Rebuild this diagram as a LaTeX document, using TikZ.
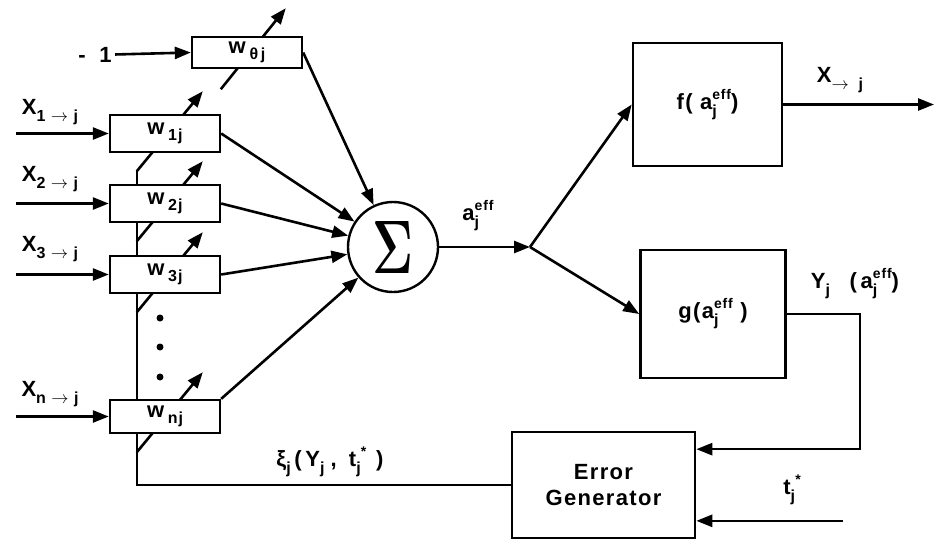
\documentclass[tikz,border=0pt]{standalone}
\usepackage{amsmath}
\usepackage{fontspec}
\setmainfont{Liberation Sans}[LetterSpace=6]
\usepackage{tikz}
\usetikzlibrary{positioning,calc,arrows.meta,backgrounds}

\newcommand{\ssub}[1]{\raisebox{-7pt}{\fontsize{16}{16}\selectfont #1}}
\newcommand{\ssup}[1]{\raisebox{10pt}{\fontsize{14}{14}\selectfont #1}}
\newcommand{\subsup}[2]{\rlap{\ssub{#1}}\ssup{#2}}
\newcommand{\wsub}[1]{\,\raisebox{-6pt}{\fontsize{16}{16}\selectfont #1}}

\begin{document}
\begin{tikzpicture}[
        x=1pt, y=-1pt,
        every node/.style={font=\fontsize{22}{26}\selectfont\bfseries},
        wbox/.style={draw, line width=2.4pt, fill=white, minimum width=110pt,
          minimum height=37pt, inner sep=0pt},
        bigbox/.style={draw, line width=2.6pt, fill=white, align=center, inner sep=0pt},
        wire/.style={line width=2.6pt, -{Triangle[length=16pt,width=12pt]}},
        plain/.style={line width=2.6pt}
      ]

      \useasboundingbox (0,0) rectangle (937,542);

      % weights
      \node[wbox, minimum height=31pt] (wt) at (247,52.5) {w\wsub{θ\,j}};
      \node[wbox] (w1) at (165,133.5) {w\wsub{1j}};
      \node[wbox] (w2) at (165,203.5) {w\wsub{2j}};
      \node[wbox] (w3) at (165,274.5) {w\wsub{3j}};
      \node[wbox, minimum height=33pt] (wn) at (165,416.5) {w\wsub{nj}};

      \node[circle, draw, line width=2.4pt, fill=white, minimum size=90pt, inner sep=0pt]
        (sum) at (393,247) {\resizebox{41pt}{52pt}{$\boldsymbol{\Sigma}$}};
      \coordinate (jn) at (530,247);

      \node[bigbox, minimum width=149pt, minimum height=123pt] (fbox) at (707.5,104.5)
        {f( a\subsup{j}{eff})};
      \node[bigbox, minimum width=145pt, minimum height=128pt] (gbox) at (713,314)
        {g(a\subsup{j}{eff} )};
      \node[bigbox, minimum width=183pt, minimum height=106pt] (eg) at (603.5,485)
        {Error\\Generator};

      % free ends
      \node (m1) at (95,55) {-\; 1};
      \coordinate[left=93pt of w1.west] (in1);
      \coordinate[left=93pt of w2.west] (in2);
      \coordinate[left=93pt of w3.west] (in3);
      \coordinate[left=93pt of wn.west] (inn);
      \coordinate (xout) at (934,104.5);
      \coordinate (yin) at ($(eg.north east)!0.17!(eg.south east)$);
      \coordinate (tin) at ($(eg.north east)!0.83!(eg.south east)$);
      \coordinate (tsrc) at (843,0 |- tin);

      % adjustment arrows
      \coordinate (at) at ($(wt.south west)+(30,20)$);
      \coordinate (a1) at ($(w1.south west)+(28,18)$);
      \coordinate (a2) at ($(w2.south west)+(28,18)$);
      \coordinate (a3) at ($(w3.south west)+(28,18)$);
      \coordinate (an) at ($(wn.south west)+(28,18)$);

      \begin{scope}[on background layer]
        \draw[plain] (eg.west) -| (a1);
        \draw[wire] (at) -- ++(65,-81);
        \draw[wire] (a1) -- ++(66,-80);
        \draw[wire] (a2) -- ++(66,-80);
        \draw[wire] (a3) -- ++(66,-80);
        \draw[wire] (an) -- ++(66,-80);
      \end{scope}

      \draw[wire] (m1) -- (wt.west);
      \draw[wire] (in1) -- (w1.west);
      \draw[wire] (in2) -- (w2.west);
      \draw[wire] (in3) -- (w3.west);
      \draw[wire] (inn) -- (wn.west);

      \draw[wire] (wt.east) -- (sum);
      \draw[wire] (w1.east) -- (sum);
      \draw[wire] (w2.east) -- (sum);
      \draw[wire] (w3.east) -- (sum);
      \draw[wire] (wn.north east) -- (sum);

      \draw[wire] (sum) -- (jn);
      \draw[wire] (jn) -- (fbox.west);
      \draw[wire] (jn) -- (gbox.west);
      \draw[wire] (fbox.east) -- (xout);
      \draw[wire] (gbox.east) -- ++(73,0) |- (yin);
      \draw[wire] (tsrc) -- (tin);

      % dots
      \fill (160,318) circle (3.5pt);
      \fill (160,347) circle (3.5pt);
      \fill (160,377) circle (3.5pt);

      % labels
      \node (lx1) at (50,112) {X\ssub{1 $\rightarrow$ j}};
      \node (lx2) at (50,179) {X\ssub{2 $\rightarrow$ j}};
      \node (lx3) at (50,249) {X\ssub{3 $\rightarrow$ j}};
      \node (lxn) at (50,394) {X\ssub{n $\rightarrow$ j}};
      \node (la) at (478,216) {a\subsup{j}{eff}};
      \node (lxo) at (840,80) {X\ssub{$\rightarrow$\; j}};
      \node (ly) at (855,284) {Y\ssub{j}\;\; (\,a\subsup{j}{eff})};
      \node (lt) at (792,490) {t\subsup{j}{\ *}};
      \node (lxi) at (330,462) {ξ\ssub{j}\,(\,Y\ssub{j}\;,\;\;t\subsup{j}{\ *}\;\,)};

    \end{tikzpicture}
\end{document}
